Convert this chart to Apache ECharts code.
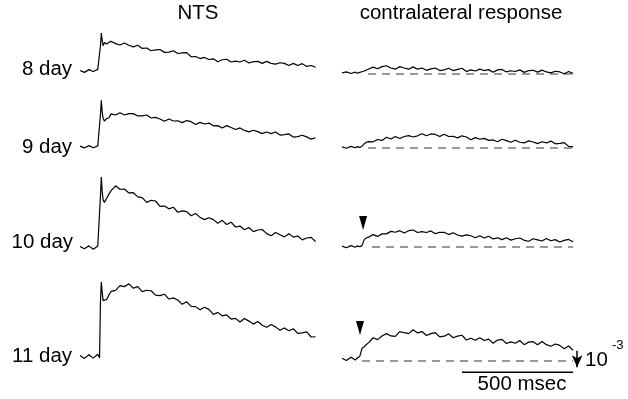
<!DOCTYPE html>
<html>
<head>
<meta charset="utf-8">
<script src="https://cdn.jsdelivr.net/npm/echarts@6/dist/echarts.min.js"></script>
<style>html,body{margin:0;padding:0;background:#fff}#main{width:628px;height:399px}</style>
</head>
<body>
<div id="main"></div>
<script>
// labels
const DAYS = ['8 day', '9 day', '10 day', '11 day'];
const TITLES = ['NTS', 'contralateral response'];
const SCALE_LABEL = '500 msec';

// NTS traces, time in ms, signal in arbitrary units
const NTS_T = [0, 20, 40, 60, 80, 88, 92, 96, 100, 104, 110, 120, 130, 140,
  160, 180, 200, 220, 240, 260, 280, 300, 320, 340,
  360, 380, 400, 420, 440, 460, 480, 500, 520, 540,
  560, 580, 600, 620, 640, 660, 680, 700, 720, 740,
  760, 780, 800, 820, 840, 860, 880, 900, 920, 940,
  960, 980, 1000, 1020, 1040, 1060];
const NTS_8 = [0.02, -0.06, 0.06, -0.02, 0.07, 0.03, 1.1, 1.65, 1.3, 1.1, 1.24, 1.17, 1.25, 1.29,
  1.19, 1.13, 1.22, 1.12, 1.05, 1.12, 0.98, 1.0, 0.88, 0.92,
  0.93, 0.81, 0.82, 0.88, 0.76, 0.79, 0.8, 0.62, 0.63, 0.54,
  0.59, 0.5, 0.53, 0.4, 0.49, 0.51, 0.39, 0.43, 0.39, 0.47,
  0.35, 0.41, 0.42, 0.33, 0.42, 0.33, 0.3, 0.36, 0.33, 0.24,
  0.33, 0.24, 0.32, 0.2, 0.24, 0.16];
const NTS_9 = [0.04, -0.04, 0.06, -0.03, 0.05, 0.0, 1.4, 2.03, 1.5, 1.25, 1.12, 1.24, 1.26, 1.44,
  1.39, 1.49, 1.39, 1.45, 1.45, 1.35, 1.35, 1.39, 1.26, 1.29,
  1.22, 1.12, 1.22, 1.13, 1.14, 1.06, 1.15, 1.1, 0.98, 1.07,
  1.0, 1.04, 0.92, 0.93, 0.83, 0.93, 0.85, 0.76, 0.83, 0.72,
  0.66, 0.73, 0.67, 0.58, 0.65, 0.58, 0.65, 0.52, 0.54, 0.57,
  0.43, 0.45, 0.51, 0.44, 0.34, 0.4];
const NTS_10 = [0.02, -0.08, 0.05, -0.1, 0.04, 0.06, 2.2, 3.04, 2.4, 2.05, 1.94, 2.12, 2.3, 2.45,
  2.66, 2.51, 2.52, 2.35, 2.36, 2.18, 2.15, 1.94, 2.03, 2.0,
  1.77, 1.78, 1.66, 1.73, 1.51, 1.57, 1.54, 1.36, 1.46, 1.29,
  1.19, 1.27, 1.19, 1.03, 1.16, 0.98, 1.08, 0.87, 0.91, 0.75,
  0.85, 0.67, 0.74, 0.76, 0.58, 0.49, 0.63, 0.53, 0.44, 0.58,
  0.43, 0.48, 0.31, 0.39, 0.42, 0.24];
const NTS_11 = [0.07, -0.06, 0.1, -0.05, 0.12, -0.03, 2.4, 3.26, 2.8, 2.45, 2.39, 2.5, 2.7, 2.85,
  2.9, 3.1, 3.06, 3.18, 2.99, 3.06, 2.84, 2.9, 2.88, 2.69,
  2.67, 2.73, 2.52, 2.57, 2.48, 2.29, 2.4, 2.2, 2.19, 2.05,
  2.16, 2.07, 1.85, 1.94, 1.79, 1.83, 1.65, 1.68, 1.52, 1.67,
  1.56, 1.43, 1.54, 1.38, 1.29, 1.41, 1.31, 1.16, 1.26, 1.14,
  1.23, 1.03, 1.05, 1.09, 0.87, 0.88];

// contralateral traces
const CON_T = [0, 20, 40, 60, 70, 80, 90, 100, 110, 120,
  140, 160, 180, 200, 220, 240, 260, 280, 300, 320,
  340, 360, 380, 400, 420, 440, 460, 480, 500, 520,
  540, 560, 580, 600, 620, 640, 660, 680, 700, 720,
  740, 760, 780, 800, 820, 840, 860, 880, 900, 920,
  940, 960, 980, 1000, 1020, 1040];
const CON_8 = [0.05, 0.09, 0.02, 0.08, 0.03, 0.07, 0.1, 0.13, 0.17, 0.22,
  0.3, 0.23, 0.32, 0.36, 0.26, 0.21, 0.32, 0.26, 0.21, 0.31,
  0.21, 0.26, 0.16, 0.22, 0.26, 0.15, 0.18, 0.25, 0.15, 0.2,
  0.25, 0.11, 0.18, 0.13, 0.21, 0.15, 0.19, 0.08, 0.18, 0.2,
  0.09, 0.14, 0.11, 0.18, 0.07, 0.15, 0.16, 0.08, 0.17, 0.09,
  0.05, 0.12, 0.09, 0.01, 0.11, 0.02];
const CON_9 = [0.05, -0.01, 0.07, 0.01, 0.06, 0.02, 0.08, 0.18, 0.25, 0.28,
  0.27, 0.37, 0.33, 0.47, 0.39, 0.5, 0.41, 0.5, 0.54, 0.48,
  0.53, 0.62, 0.53, 0.61, 0.59, 0.5, 0.6, 0.5, 0.51, 0.44,
  0.53, 0.48, 0.36, 0.45, 0.38, 0.42, 0.33, 0.35, 0.27, 0.38,
  0.32, 0.25, 0.34, 0.25, 0.22, 0.31, 0.26, 0.19, 0.27, 0.22,
  0.3, 0.18, 0.2, 0.23, 0.07, 0.06];
const CON_10 = [0.04, -0.03, 0.06, -0.01, 0.05, 0.01, 0.06, 0.32, 0.4, 0.43,
  0.54, 0.46, 0.57, 0.57, 0.68, 0.64, 0.71, 0.61, 0.71, 0.74,
  0.63, 0.67, 0.63, 0.7, 0.58, 0.64, 0.64, 0.54, 0.62, 0.52,
  0.47, 0.53, 0.49, 0.4, 0.49, 0.39, 0.47, 0.35, 0.4, 0.32,
  0.4, 0.3, 0.36, 0.39, 0.29, 0.25, 0.36, 0.31, 0.26, 0.37,
  0.27, 0.32, 0.22, 0.29, 0.33, 0.23];
const CON_11 = [0.12, 0.02, 0.16, 0.04, 0.14, 0.2, 0.55, 0.62, 0.72, 0.8,
  1.01, 0.93, 1.09, 1.19, 1.09, 1.07, 1.28, 1.23, 1.19, 1.36,
  1.22, 1.28, 1.11, 1.19, 1.23, 1.05, 1.08, 1.18, 1.01, 1.08,
  1.12, 0.91, 0.99, 0.9, 1.01, 0.89, 0.95, 0.77, 0.91, 0.94,
  0.76, 0.83, 0.77, 0.89, 0.71, 0.82, 0.84, 0.71, 0.85, 0.71,
  0.64, 0.74, 0.68, 0.53, 0.65, 0.47];

// dashed zero lines start (ms), onset arrowheads [ms, value]
const DASH_START = [117, 117, 135, 90];
const DASH_END = 1040;
const ONSET_MARK = [null, null, [95, 1.04], [81, 1.43]];
// scale bars: time bar (ms) and 10^-3 arrow (value range)
const SCALE_MS = [540, 1040];
const SCALE_BAR_Y = -0.49;
const SCALE_ARROW_T = 1058;
const SCALE_ARROW_V = [0.45, -0.27];

// layout
const PX_PER_UNIT = 23, MS_PER_PX = 4.5;
const NTS_BASE = [71, 147, 247, 357];
const CON_BASE = [74, 148, 247, 361];
const ROW_YMAX = [2.5, 3, 3.5, 3.5];
const Y_MIN = -1;
const NTS_XMAX = 1060, CON_XMAX = 1080;
const FONT = 'Liberation Sans, Arial, Helvetica, sans-serif';

const ntsData = [NTS_8, NTS_9, NTS_10, NTS_11];
const conData = [CON_8, CON_9, CON_10, CON_11];
const zip = (t, v) => t.map((x, i) => [x, v[i]]);

const grid = [], xAxis = [], yAxis = [], series = [];
function addGrid(left, xmax, base, ymax) {
  grid.push({
    left: left, width: xmax / MS_PER_PX,
    top: base - ymax * PX_PER_UNIT, height: (ymax - Y_MIN) * PX_PER_UNIT
  });
  const i = grid.length - 1;
  xAxis.push({ type: 'value', gridIndex: i, min: 0, max: xmax, show: false });
  yAxis.push({ type: 'value', gridIndex: i, min: Y_MIN, max: ymax, show: false });
  return i;
}
const traceStyle = { color: '#000', width: 1.2 };

for (let r = 0; r < 4; r++) {
  const g = addGrid(80, NTS_XMAX, NTS_BASE[r], ROW_YMAX[r]);
  series.push({
    type: 'line', xAxisIndex: g, yAxisIndex: g, data: zip(NTS_T, ntsData[r]),
    showSymbol: false, lineStyle: traceStyle
  });
}
for (let r = 0; r < 4; r++) {
  const g = addGrid(342, CON_XMAX, CON_BASE[r], ROW_YMAX[r]);
  series.push({
    type: 'line', xAxisIndex: g, yAxisIndex: g,
    data: [[DASH_START[r], 0], [DASH_END, 0]],
    showSymbol: false, lineStyle: { color: '#333', width: 1, type: [8, 6] }
  });
  series.push({
    type: 'line', xAxisIndex: g, yAxisIndex: g, data: zip(CON_T, conData[r]),
    showSymbol: false, lineStyle: traceStyle
  });
  if (ONSET_MARK[r]) {
    series.push({
      type: 'scatter', xAxisIndex: g, yAxisIndex: g, data: [ONSET_MARK[r]],
      symbol: 'triangle', symbolRotate: 180, symbolSize: [8, 14],
      itemStyle: { color: '#000', opacity: 1 }
    });
  }
}
// scale bars on the last contralateral grid
const last = grid.length - 1;
series.push({
  type: 'line', xAxisIndex: last, yAxisIndex: last,
  data: [[SCALE_MS[0], SCALE_BAR_Y], [SCALE_MS[1], SCALE_BAR_Y]],
  showSymbol: false, lineStyle: { color: '#000', width: 1.5 }
});
series.push({
  type: 'line', xAxisIndex: last, yAxisIndex: last, data: [],
  markLine: {
    silent: true, symbol: ['none', 'arrow'], symbolSize: [8, 12],
    label: { show: false },
    lineStyle: { color: '#000', width: 1.5, type: 'solid' },
    data: [[{ coord: [SCALE_ARROW_T, SCALE_ARROW_V[0]] }, { coord: [SCALE_ARROW_T, SCALE_ARROW_V[1]] }]]
  }
});

function txt(text, x, y, align, size, sx) {
  return {
    type: 'text', x: x, y: y, scaleX: sx || 1.05,
    style: {
      text: text, fill: '#000', fontSize: size, fontFamily: FONT,
      align: align, verticalAlign: 'middle',
      textAlign: align, textVerticalAlign: 'middle'
    }
  };
}
const graphic = [
  txt(TITLES[0], 198, 14, 'center', 19.5),
  txt(TITLES[1], 461, 14, 'center', 19.5),
  txt(DAYS[0], 72, 70, 'right', 19.5),
  txt(DAYS[1], 72, 148, 'right', 19.5),
  txt(DAYS[2], 73, 243, 'right', 19.5),
  txt(DAYS[3], 72, 357, 'right', 19.5),
  txt(SCALE_LABEL, 522, 385, 'center', 19.5),
  txt('10', 585, 361, 'left', 19.5),
  txt('-3', 612, 346, 'left', 12.5)
];

const chart = echarts.init(document.getElementById('main'));
chart.setOption({
  animation: false,
  grid: grid, xAxis: xAxis, yAxis: yAxis, series: series, graphic: graphic
});
</script>
</body>
</html>
